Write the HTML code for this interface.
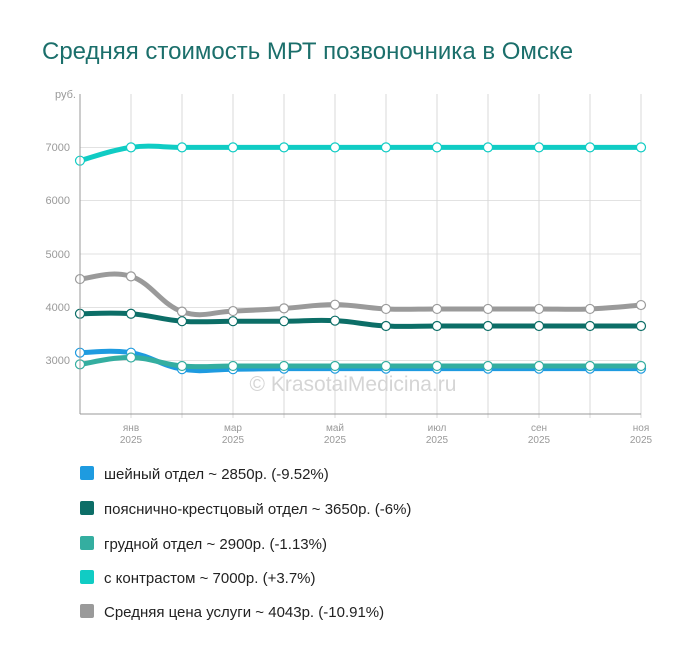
<!DOCTYPE html>
<html><head><meta charset="utf-8"><style>
body{margin:0;background:#fff;font-family:"Liberation Sans",Arial,sans-serif}
</style></head><body>
<svg width="700" height="659" xmlns="http://www.w3.org/2000/svg" font-family="Liberation Sans, Arial, sans-serif">
<text x="42" y="59" font-size="24" fill="#1b6f6b">Средняя стоимость МРТ позвоночника в Омске</text>
<g stroke="#e2e2e2" stroke-width="1">
<line x1="80" y1="147.5" x2="641" y2="147.5"/><line x1="80" y1="200.5" x2="641" y2="200.5"/><line x1="80" y1="254" x2="641" y2="254"/><line x1="80" y1="307.5" x2="641" y2="307.5"/><line x1="80" y1="360.5" x2="641" y2="360.5"/>
</g>
<g stroke="#d8d8d8" stroke-width="1" id="vg"></g>
<g fill="#999" font-size="11" text-anchor="end">
<text x="76" y="98">руб.</text><text x="70" y="151">7000</text><text x="70" y="204">6000</text><text x="70" y="258">5000</text><text x="70" y="311">4000</text><text x="70" y="364">3000</text>
</g>
<g fill="#999" font-size="10" text-anchor="middle">
<text x="131" y="431">янв</text><text x="131" y="443">2025</text>
<text x="233" y="431">мар</text><text x="233" y="443">2025</text>
<text x="335" y="431">май</text><text x="335" y="443">2025</text>
<text x="437" y="431">июл</text><text x="437" y="443">2025</text>
<text x="539" y="431">сен</text><text x="539" y="443">2025</text>
<text x="641" y="431">ноя</text><text x="641" y="443">2025</text>
</g>
<text x="353" y="391" font-size="21" fill="#d5d5d5" text-anchor="middle">© KrasotaiMedicina.ru</text>
<g id="series"></g>
<line x1="80" y1="94" x2="80" y2="414" stroke="#999"/>
<line x1="80" y1="414" x2="641" y2="414" stroke="#999"/>
<g font-size="15" fill="#222">
<rect x="80" y="466" width="14" height="14" rx="2" fill="#1e9be0"/><text x="104" y="479">шейный отдел ~ 2850р. (-9.52%)</text>
<rect x="80" y="501" width="14" height="14" rx="2" fill="#0c6e67"/><text x="104" y="514">пояснично-крестцовый отдел ~ 3650р. (-6%)</text>
<rect x="80" y="536" width="14" height="14" rx="2" fill="#34aea0"/><text x="104" y="549">грудной отдел ~ 2900р. (-1.13%)</text>
<rect x="80" y="570" width="14" height="14" rx="2" fill="#10ccc4"/><text x="104" y="583">с контрастом ~ 7000р. (+3.7%)</text>
<rect x="80" y="604" width="14" height="14" rx="2" fill="#9a9a9a"/><text x="104" y="617">Средняя цена услуги ~ 4043р. (-10.91%)</text>
</g>
</svg>
<script>
var NS="http://www.w3.org/2000/svg";
var xs=[];for(var i=0;i<12;i++)xs.push(80+i*51);
var vg=document.getElementById('vg');
xs.slice(1).forEach(function(x){var l=document.createElementNS(NS,'line');l.setAttribute('x1',x);l.setAttribute('x2',x);l.setAttribute('y1',94);l.setAttribute('y2',418);vg.appendChild(l);});
function y(v){return 414-(v-2000)*0.05333;}
var S=[
["#10ccc4",[6750,7000,7000,7000,7000,7000,7000,7000,7000,7000,7000,7000]],
["#9a9a9a",[4530,4580,3920,3930,3980,4050,3970,3970,3970,3970,3970,4043]],
["#0c6e67",[3880,3880,3740,3740,3740,3750,3650,3650,3650,3650,3650,3650]],
["#1e9be0",[3150,3150,2840,2840,2850,2850,2850,2850,2850,2850,2850,2850]],
["#34aea0",[2930,3060,2900,2900,2900,2900,2900,2900,2900,2900,2900,2900]]
];
var g=document.getElementById('series');
S.forEach(function(s){
 var p=s[1].map(function(v,i){return [xs[i],y(v)];});
 var d="M"+p[0][0]+","+p[0][1];
 for(var i=0;i<p.length-1;i++){
  var p0=p[i-1]||p[i],p1=p[i],p2=p[i+1],p3=p[i+2]||p2,t=0.2;
  d+=" C"+(p1[0]+(p2[0]-p0[0])*t)+","+(p1[1]+(p2[1]-p0[1])*t)+" "+(p2[0]-(p3[0]-p1[0])*t)+","+(p2[1]-(p3[1]-p1[1])*t)+" "+p2[0]+","+p2[1];
 }
 var path=document.createElementNS(NS,'path');path.setAttribute('d',d);path.setAttribute('fill','none');path.setAttribute('stroke',s[0]);path.setAttribute('stroke-width',5);g.appendChild(path);
});
S.forEach(function(s){
 s[1].forEach(function(v,i){var c=document.createElementNS(NS,'circle');c.setAttribute('cx',xs[i]);c.setAttribute('cy',y(v));c.setAttribute('r',4.5);c.setAttribute('fill','#fff');c.setAttribute('stroke',s[0]);c.setAttribute('stroke-width',1.2);g.appendChild(c);});
});
</script>
</body></html>
